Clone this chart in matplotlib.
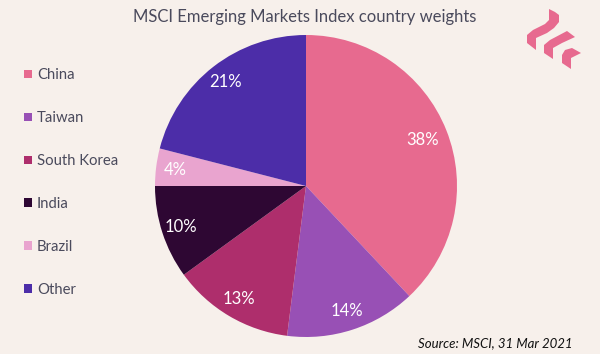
import math
import matplotlib
matplotlib.use('Agg')
import matplotlib.pyplot as plt
from matplotlib.patches import Polygon

countries = ['China', 'Taiwan', 'South Korea', 'India', 'Brazil', 'Other']
weights = [38, 14, 13, 10, 4, 21]
colors = ['#E76A8F', '#9850B5', '#AE2E6C', '#2E0733', '#E9A4CF', '#4C2DA8']

bg = '#F7F0EB'
text_col = '#4A4A5C'

plt.rcParams['font.family'] = ['Lato', 'DejaVu Sans']

fig = plt.figure(figsize=(6, 3.54), dpi=100, facecolor=bg)

# pie centre about (306,186) px, radius 151 px
ax = fig.add_axes([155 / 600, (354 - 337) / 354, 302 / 600, 302 / 354])
ax.set_facecolor(bg)
wedges, _ = ax.pie(weights, colors=colors, startangle=90, counterclock=False, radius=1)
ax.set_xlim(-1, 1)
ax.set_ylim(-1, 1)

# percent labels
cum = 0
for w in weights:
    mid = 90 - (cum + w / 2) * 3.6
    r = 0.83 if w == 38 else 0.87
    ax.text(r * math.cos(math.radians(mid)), r * math.sin(math.radians(mid)), f'{w}%',
            color='white', fontsize=12, ha='center', va='center')
    cum += w

fig.text(305 / 600, 1 - 17 / 354, 'MSCI Emerging Markets Index country weights',
         ha='center', va='center', fontsize=12, color=text_col)

leg = fig.legend(wedges, countries, loc='upper left', bbox_to_anchor=(20 / 600, 1 - 64 / 354),
                 frameon=False, fontsize=10.7, labelcolor=text_col, handlelength=0.5, handleheight=0.5,
                 handletextpad=0.34, labelspacing=1.94, borderpad=0.3, borderaxespad=0)

fig.text(572 / 600, 1 - 343 / 354, 'Source: MSCI, 31 Mar 2021', ha='right', va='center',
         fontsize=9.5, style='italic', color='#111111')

# logo
logo_col = '#E76A8F'
logo_shapes = [
    [(549, 9), (555, 12), (559, 15), (559, 22), (554, 28), (547, 33), (536, 38), (536, 50),
     (527, 43), (527, 35), (533, 30), (545, 24), (549, 20)],
    [(567, 31), (575, 37), (562, 43), (553, 48), (553, 59), (544, 53), (544, 45), (550, 40)],
    [(572, 48), (581, 53), (571, 58), (571, 69), (562, 63), (562, 55), (565, 50)],
]
for shape in logo_shapes:
    pts = [(x / 600, 1 - y / 354) for x, y in shape]
    fig.add_artist(Polygon(pts, closed=True, transform=fig.transFigure, facecolor=logo_col, edgecolor='none'))

fig.savefig('out.png', dpi=100, facecolor=bg)
